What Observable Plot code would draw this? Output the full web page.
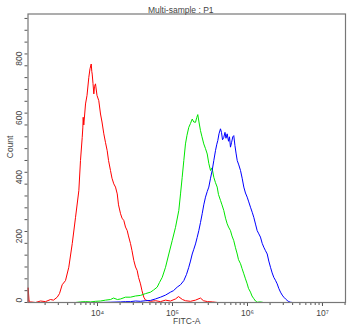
<!DOCTYPE html>
<html><head><meta charset="utf-8">
<script src="https://cdn.jsdelivr.net/npm/d3@7"></script>
<script src="https://cdn.jsdelivr.net/npm/@observablehq/plot@0.6"></script>
<style>
html,body{margin:0;padding:0;background:#fff;}
</style>
</head><body>
<div id="chart"></div>
<script>
const title = "Multi-sample : P1";
const xLabel = "FITC-A";
const yLabel = "Count";
const yMajorTicks = [0, 200, 400, 600, 800];
const xMajorTicks = [1e4, 1e5, 1e6, 1e7];
const xMajorLabels = ["10⁴", "10⁵", "10⁶", "10⁷"];

// log10(FITC-A) positions and counts
const redLog = [3.075,3.075,3.087,3.107,3.173,3.24,3.307,3.373,3.413,3.463,3.493,3.529,3.573,3.617,3.663,3.707,3.751,3.773,3.796,3.804,3.809,3.817,3.84,3.86,3.884,3.9,3.916,3.924,3.929,3.94,3.951,3.96,3.973,3.993,4.017,4.04,4.06,4.084,4.107,4.129,4.147,4.173,4.193,4.217,4.24,4.263,4.28,4.307,4.327,4.351,4.373,4.396,4.413,4.44,4.46,4.484,4.507,4.529,4.547,4.573,4.593,4.617,4.64,4.663,4.707,4.773,4.84,4.907,4.973,5.04,5.08,5.133,5.173,5.24,5.307,5.373,5.413,5.467,5.533,5.6];
const redCount = [0,50,5,2,0,5,3,10,8,18,30,60,74,119,199,288,378,480,558,590,626,600,671,700,761,790,806,780,772,740,705,730,739,700,682,637,610,570,540,513,480,446,420,401,390,367,330,300,285,277,255,243,225,199,175,142,120,108,85,63,40,18,8,7,4,6,3,8,5,12,20,10,6,4,8,15,6,3,2,0];

const greenLog = [3.707,3.773,3.84,3.907,3.973,4.04,4.107,4.173,4.213,4.267,4.307,4.373,4.44,4.507,4.573,4.64,4.707,4.747,4.796,4.827,4.863,4.907,4.951,4.996,5.04,5.084,5.107,5.129,5.151,5.173,5.193,5.217,5.24,5.263,5.284,5.307,5.323,5.337,5.353,5.373,5.393,5.417,5.44,5.463,5.484,5.507,5.527,5.551,5.573,5.596,5.613,5.64,5.66,5.684,5.707,5.729,5.747,5.773,5.793,5.817,5.84,5.863,5.88,5.907,5.927,5.951,5.973,5.996,6.013,6.04,6.06,6.084,6.107,6.129,6.173,6.213];
const greenCount = [0,2,3,2,4,5,8,10,15,10,12,18,18,22,24,30,35,42,52,68,85,119,164,209,254,311,367,423,480,536,565,592,605,620,610,609,625,635,610,581,560,536,520,502,470,446,455,423,405,390,365,345,330,311,285,266,255,243,225,209,185,164,145,131,115,97,80,63,48,35,22,13,5,1,2,0];

const blueLog = [4.04,4.173,4.307,4.373,4.44,4.507,4.573,4.64,4.707,4.773,4.84,4.907,4.973,5.013,5.063,5.107,5.151,5.187,5.217,5.24,5.263,5.284,5.307,5.329,5.351,5.373,5.396,5.417,5.44,5.463,5.484,5.507,5.529,5.551,5.573,5.591,5.604,5.62,5.64,5.653,5.667,5.684,5.7,5.713,5.729,5.747,5.76,5.773,5.787,5.804,5.817,5.833,5.847,5.863,5.884,5.907,5.929,5.951,5.973,5.996,6.017,6.04,6.063,6.084,6.107,6.129,6.151,6.173,6.196,6.217,6.24,6.263,6.284,6.307,6.329,6.351,6.373,6.396,6.417,6.44,6.463,6.484,6.507,6.529,6.551,6.573,6.6];
const blueCount = [0,1,2,3,3,5,4,6,7,12,18,25,35,40,52,60,74,95,119,140,164,180,198,220,243,270,300,330,356,375,390,420,446,480,513,535,547,570,587,575,550,558,575,555,570,545,560,525,540,560,564,530,505,480,465,446,420,390,370,356,340,322,305,288,265,243,232,221,200,187,175,164,140,119,100,85,75,63,48,35,25,18,12,7,3,1,0];

const series = [
  {name: "red", color: "#ff0000", log: redLog, count: redCount},
  {name: "green", color: "#00e600", log: greenLog, count: greenCount},
  {name: "blue", color: "#0000ff", log: blueLog, count: blueCount}
];
const rows = series.flatMap(s => s.log.map((e, i) => ({series: s.name, color: s.color, x: 10 ** e, y: s.count[i]})));

const xDomain = [10 ** 3.073, 10 ** 7.307];
const yDomain = [0, 975];
const xMinor = [];
for (let k = 3; k <= 7; k++) for (let m = 1; m <= 9; m++) {
  const v = m * 10 ** k;
  if (v >= xDomain[0] && v <= xDomain[1]) xMinor.push(v);
}
const yMinor = d3.range(0, 975, 40);

const chart = Plot.plot({
  width: 350,
  height: 329,
  marginLeft: 27.5,
  marginRight: 5,
  marginTop: 13.5,
  marginBottom: 27,
  style: {fontFamily: "'Liberation Sans', Arial, sans-serif", fontSize: "8.5px", color: "#444", background: "#fff"},
  x: {type: "log", domain: xDomain, label: null},
  y: {domain: yDomain, label: null},
  marks: [
    Plot.axisY({ticks: yMinor, tickSize: 3, tickFormat: () => "", stroke: "#555"}),
    Plot.axisX({ticks: xMinor, tickSize: 3, tickFormat: () => "", stroke: "#555"}),
    Plot.axisX({ticks: xMajorTicks, tickSize: 4, tickPadding: 3, stroke: "#555", fill: "#444", tickFormat: d => xMajorLabels[xMajorTicks.indexOf(d)]}),
    Plot.text(yMajorTicks, {y: d => d, text: d => String(d), frameAnchor: "left", dx: -9, rotate: -90, fill: "#444"}),
    ...series.map(s => Plot.line(rows.filter(r => r.series === s.name), {x: "x", y: "y", stroke: s.color, strokeWidth: 1})),
    Plot.frame({stroke: "#777", strokeWidth: 1.2}),
    Plot.text([title], {text: d => d, frameAnchor: "top", dy: -7, dx: -6, fill: "#444"}),
    Plot.text([xLabel], {text: d => d, frameAnchor: "bottom", dy: 21, fill: "#444"}),
    Plot.text([yLabel], {text: d => d, frameAnchor: "left", dx: -18, rotate: -90, fill: "#444"})
  ]
});
document.getElementById("chart").appendChild(chart);
</script>
</body></html>
